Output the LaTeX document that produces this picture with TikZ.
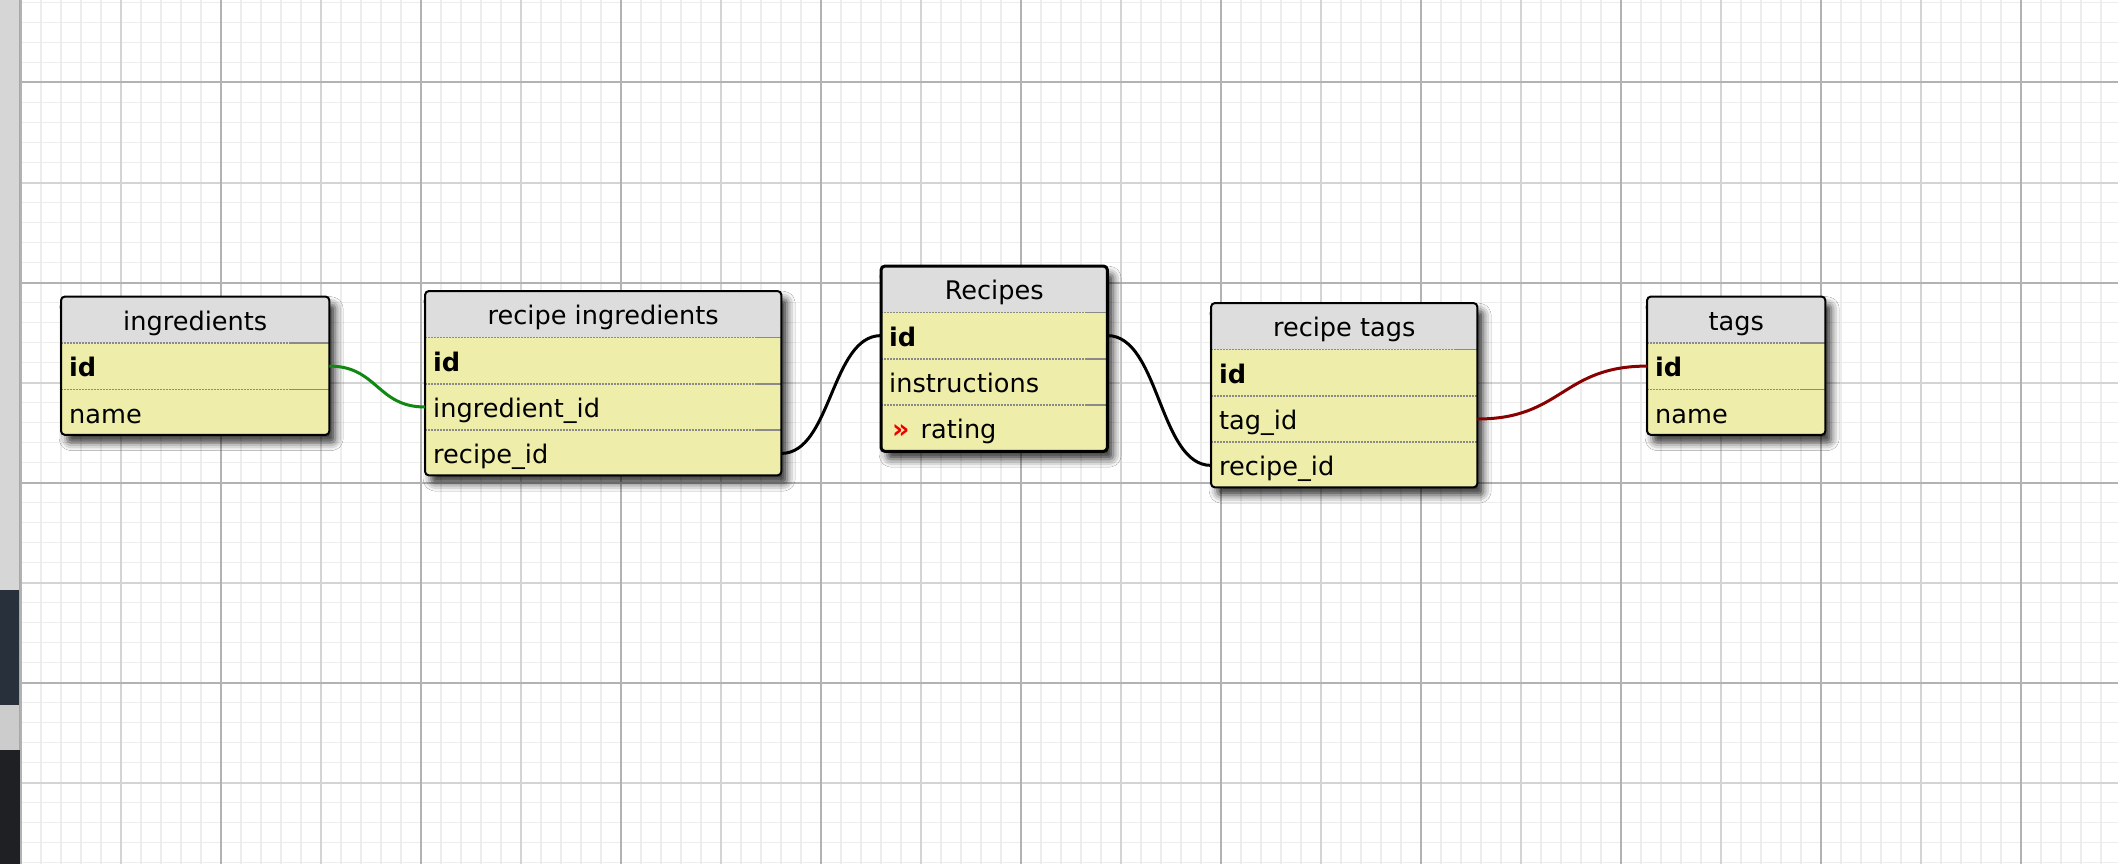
\documentclass[tikz,border=0pt]{standalone}
\usepackage{fontspec}
\setmainfont{DejaVu Sans}
\usetikzlibrary{shadows.blur}
\definecolor{headgray}{HTML}{DDDDDD}
\definecolor{bodyyel}{HTML}{EEEEAA}
\definecolor{sepgray}{HTML}{8A8A8A}
\definecolor{gridminor}{HTML}{EDEDED}
\definecolor{gridmid}{HTML}{D4D4D4}
\definecolor{gridmajor}{HTML}{B2B2B2}
\definecolor{relgreen}{HTML}{118811}
\definecolor{relred}{HTML}{880000}
\definecolor{markred}{HTML}{EE0000}
\definecolor{stripgray}{HTML}{D6D6D6}
\definecolor{stripedge}{HTML}{A8A8A8}
\definecolor{stripimg}{HTML}{28303C}
\definecolor{stripdark}{HTML}{1E2024}
\definecolor{striplight}{HTML}{CCCCCC}
\tikzset{
 tblbody/.style={rectangle, rounded corners=4pt, fill=bodyyel, inner sep=0pt,
   blur shadow={shadow xshift=6pt, shadow yshift=-8pt, shadow blur radius=8pt, shadow opacity=80}},
 cellfont/.style={font=\fontsize{25.6}{30}\selectfont},
 headbox/.style={rectangle, fill=headgray, inner sep=0pt, minimum height=46pt,
   text height=24pt, text depth=3pt, cellfont},
 rowbox/.style={rectangle, inner xsep=8pt, inner ysep=0pt, minimum height=46pt,
   text height=24pt, text depth=3pt, align=left, cellfont},
 keyrow/.style={rowbox, font=\fontsize{25.6}{30}\selectfont\bfseries},
 sepdot/.style={sepgray, line width=1.5pt, dash pattern=on 1.5pt off 1.5pt},
 sepsolid/.style={sepgray, line width=1.5pt},
 frame/.style={draw=black, line width=2pt, rounded corners=4pt},
 rel/.style={line width=3pt},
 gminor/.style={gridminor, line width=1.7pt},
 gmid/.style={gridmid, line width=2pt},
 gmajor/.style={gridmajor, line width=2pt},
}
% name, x, y, width, height, title
\newcommand{\dbtable}[6]{%
  \node[tblbody, minimum width=#4pt, minimum height=#5pt, anchor=north west] (#1) at (#2,#3) {};
  \begin{scope}
    \clip[rounded corners=4pt] (#1.north west) rectangle (#1.south east);
    \node[headbox, minimum width=#4pt, anchor=north west] (#1-h) at (#2,#3) {#6};
  \end{scope}}
% node, solid length
\newcommand{\sepline}[2]{%
  \draw[sepdot] (#1.south west) -- (#1.south east);
  \draw[sepsolid] ([xshift=-#2pt]#1.south east) -- (#1.south east);}
\begin{document}
\begin{tikzpicture}[x=1pt,y=-1pt]
\useasboundingbox (0,0) rectangle (2118,864);
\fill[white] (0,0) rectangle (2118,864);
% grid
\foreach \k in {1,...,105} \draw[gminor] ({0.7+20*\k},0) -- ({0.7+20*\k},864);
\foreach \k in {0,...,43} \draw[gminor] (20,{2.5+20*\k}) -- (2118,{2.5+20*\k});
\foreach \k in {0,...,9} \draw[gmid] ({120.7+200*\k},0) -- ({120.7+200*\k},864);
\foreach \k in {0,...,3} \draw[gmid] (20,{182.5+200*\k}) -- (2118,{182.5+200*\k});
\foreach \k in {0,...,10} \draw[gmajor] ({20.7+200*\k},0) -- ({20.7+200*\k},864);
\foreach \k in {0,...,3} \draw[gmajor] (20,{82.5+200*\k}) -- (2118,{82.5+200*\k});
% left strip (other window)
\fill[stripgray] (0,0) rectangle (20,590);
\fill[stripimg] (0,590) rectangle (20,705);
\fill[striplight] (0,705) rectangle (20,750);
\fill[stripdark] (0,750) rectangle (20,864);
\fill[stripedge] (18.5,0) rectangle (20,750);

% ingredients
\dbtable{ing}{61}{296.5}{268}{138}{ingredients}
\node[keyrow, text width=252pt, anchor=north west] (ing-id) at (ing-h.south west) {id};
\node[rowbox, text width=252pt, anchor=north west] (ing-name) at (ing-id.south west) {name};
\sepline{ing-h}{38}
\sepline{ing-id}{38}
\draw[frame] (ing.north west) rectangle (ing.south east);

% recipe ingredients
\dbtable{ri}{425}{291}{356}{184}{recipe ingredients}
\node[keyrow, text width=340pt, anchor=north west] (ri-id) at (ri-h.south west) {id};
\node[rowbox, text width=340pt, anchor=north west] (ri-ingid) at (ri-id.south west) {ingredient\_id};
\node[rowbox, text width=340pt, anchor=north west] (ri-recid) at (ri-ingid.south west) {recipe\_id};
\sepline{ri-h}{25}
\sepline{ri-id}{25}
\sepline{ri-ingid}{25}
\draw[frame] (ri.north west) rectangle (ri.south east);

% Recipes
\dbtable{rec}{881}{266}{226}{185}{Recipes}
\node[keyrow, text width=210pt, anchor=north west] (rec-id) at (rec-h.south west) {id};
\node[rowbox, text width=210pt, anchor=north west] (rec-instr) at (rec-id.south west) {instructions};
\node[rowbox, text width=210pt, anchor=north west] (rec-rating) at (rec-instr.south west)
  {\hspace{3pt}{\color{markred}\bfseries\fontsize{27}{30}\selectfont »}\hspace{11pt}rating};
\sepline{rec-h}{22}
\sepline{rec-id}{22}
\sepline{rec-instr}{22}
\draw[frame, line width=3pt] (rec.north west) rectangle (rec.south east);

% recipe tags
\dbtable{rt}{1211}{303}{266}{184}{recipe tags}
\node[keyrow, text width=250pt, anchor=north west] (rt-id) at (rt-h.south west) {id};
\node[rowbox, text width=250pt, anchor=north west] (rt-tagid) at (rt-id.south west) {tag\_id};
\node[rowbox, text width=250pt, anchor=north west] (rt-recid) at (rt-tagid.south west) {recipe\_id};
\sepline{rt-h}{23}
\draw[sepdot] (rt-id.south west) -- (rt-id.south east);
\draw[sepdot] (rt-tagid.south west) -- (rt-tagid.south east);
\draw[frame] (rt.north west) rectangle (rt.south east);

% tags
\dbtable{tags}{1647}{296.5}{178}{138}{tags}
\node[keyrow, text width=162pt, anchor=north west] (tags-id) at (tags-h.south west) {id};
\node[rowbox, text width=162pt, anchor=north west] (tags-name) at (tags-id.south west) {name};
\sepline{tags-h}{25}
\sepline{tags-id}{25}
\draw[frame] (tags.north west) rectangle (tags.south east);

% relations
\draw[rel, relgreen] (ing-id.east) .. controls +(48,0) and +(-48,0) .. (ri-ingid.west);
\draw[rel, black] (ri-recid.east) .. controls +(50,0) and +(-50,0) .. (rec-id.west);
\draw[rel, black] (rec-id.east) .. controls +(52,0) and +(-52,0) .. (rt-recid.west);
\draw[rel, relred] (rt-tagid.east) .. controls +(85,0) and +(-85,0) .. (tags-id.west);
\end{tikzpicture}
\end{document}
